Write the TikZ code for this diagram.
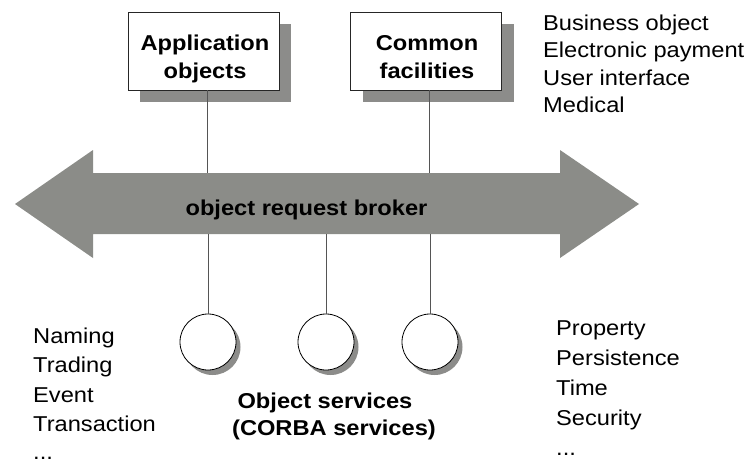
\documentclass[tikz,border=0pt]{standalone}
\usepackage{fontspec}
\setmainfont{Liberation Sans}[FakeStretch=1.1]
\usetikzlibrary{shadows}
\definecolor{orbgray}{HTML}{8B8C88}
\definecolor{shadegray}{HTML}{8C8C8A}
\definecolor{wiregray}{HTML}{555555}
\begin{document}
\begin{tikzpicture}[x=1pt,y=-1pt,
  every node/.style={inner sep=0pt, font=\fontsize{21.5}{26}\selectfont},
  boldlbl/.style={anchor=base, font=\fontsize{21.5}{26}\selectfont\bfseries},
  item/.style={anchor=base west},
  facility/.style={draw=black!85, fill=white, line width=0.8pt,
    minimum width=151pt, minimum height=78pt,
    drop shadow={shadow xshift=12pt, shadow yshift=-12pt, fill=shadegray, opacity=1}},
  service/.style={circle, draw=black, fill=white, line width=0.8pt, minimum size=56pt,
    drop shadow={shadow xshift=4.5pt, shadow yshift=-5pt, fill=shadegray, opacity=1}},
  wire/.style={draw=wiregray, line width=1pt}
]
\useasboundingbox (0,0) rectangle (749,464);

% object request broker: a double-headed band
\fill[orbgray] (15,204) -- (93,150) -- (93,173) -- (560,173) -- (560,150) -- (639,204)
  -- (560,258) -- (560,234) -- (93,234) -- (93,258) -- cycle;
\coordinate (orbtop) at (0,173);
\coordinate (orbbot) at (0,234);
\node[boldlbl] (orb) at (306.5,215) {object request broker};

% facilities above the broker
\node[facility] (app) at (203.5,51) {};
\node[boldlbl] (appa) at (205,50) {Application};
\node[boldlbl] (appb) at (205,78) {objects};
\node[facility] (com) at (426,51) {};
\node[boldlbl] (coma) at (427,50) {Common};
\node[boldlbl] (comb) at (427,78) {facilities};

\coordinate (appfoot) at ([xshift=3.5pt]app.south);
\coordinate (comfoot) at ([xshift=3pt]com.south);
\draw[wire] (appfoot) -- (appfoot |- orbtop);
\draw[wire] (comfoot) -- (comfoot |- orbtop);

% object services below the broker
\node[service] (s1) at (208,342) {};
\node[service] (s2) at (326,342) {};
\node[service] (s3) at (430,342) {};
\foreach \s in {s1,s2,s3}
  \draw[wire] (\s.north) -- (\s.north |- orbbot);

\node[boldlbl] (osa) at (325,408) {Object services};
\node[boldlbl] (osb) at (334,435.5) {(CORBA services)};

% common facility domains
\node[item] (f1) at (543,30) {Business object};
\node[item] (f2) at (543,57.5) {Electronic payment};
\node[item] (f3) at (543,85) {User interface};
\node[item] (f4) at (543,112.5) {Medical};

% services, left column
\node[item] (l1) at (33,343) {Naming};
\node[item] (l2) at (33,372.5) {Trading};
\node[item] (l3) at (33,402) {Event};
\node[item] (l4) at (33,431.5) {Transaction};
\node[item] (l5) at (33,459) {...};

% services, right column
\node[item] (r1) at (556,335.5) {Property};
\node[item] (r2) at (556,365.5) {Persistence};
\node[item] (r3) at (556,395.5) {Time};
\node[item] (r4) at (556,425.5) {Security};
\node[item] (r5) at (556,455.5) {...};
\end{tikzpicture}
\end{document}
